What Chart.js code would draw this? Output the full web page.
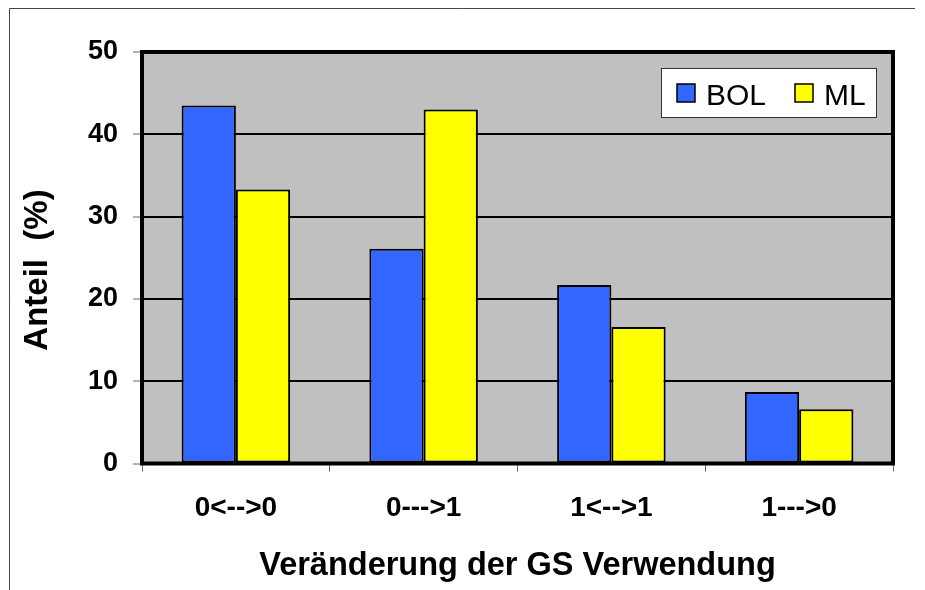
<!DOCTYPE html>
<html><head><meta charset="utf-8">
<script src="https://cdn.jsdelivr.net/npm/chart.js@4"></script>
<style>html,body{margin:0;padding:0;background:#fff;} canvas{display:block;}</style>
</head><body>
<canvas id="c" width="925" height="590"></canvas>
<script>
const categories = ['0<-->0', '0--->1', '1<-->1', '1--->0'];
const bolValues = [43.5, 26.1, 21.7, 8.7];
const mlValues = [33.3, 43.0, 16.6, 6.6];
const seriesNames = ['BOL', 'ML'];
const yTicks = [0, 10, 20, 30, 40, 50];
const yTitle = 'Anteil  (%)';
const xTitle = 'Veränderung der GS Verwendung';

Chart.defaults.font.family = '"Liberation Sans", Arial, sans-serif';

const decor = {
  id: 'decor',
  beforeDraw(chart) {
    const {ctx, chartArea: a} = chart;
    ctx.save();
    ctx.fillStyle = '#fff';
    ctx.fillRect(0, 0, chart.width, chart.height);
    ctx.fillStyle = '#C0C0C0';
    ctx.fillRect(a.left, a.top, a.right - a.left, a.bottom - a.top);
    ctx.restore();
  },
  afterDraw(chart) {
    const {ctx, chartArea: a} = chart;
    ctx.save();
    // plot frame
    ctx.strokeStyle = '#000';
    ctx.lineWidth = 4;
    ctx.strokeRect(a.left, a.top, a.right - a.left, a.bottom - a.top);
    // outer frame (left + top)
    ctx.strokeStyle = '#444';
    ctx.lineWidth = 1;
    ctx.beginPath();
    ctx.moveTo(9.5, chart.height);
    ctx.lineTo(9.5, 8.5);
    ctx.lineTo(915, 8.5);
    ctx.stroke();
    // y axis title
    ctx.save();
    ctx.translate(37.5, 270);
    ctx.rotate(-Math.PI / 2);
    ctx.font = 'bold 33px "Liberation Sans", Arial, sans-serif';
    ctx.fillStyle = '#000';
    ctx.textAlign = 'center';
    ctx.textBaseline = 'middle';
    ctx.fillText(yTitle, 0, 0);
    ctx.restore();
    // legend
    const bx = a.right - 16 - 216, by = a.top + 16, bw = 216, bh = 50;
    ctx.fillStyle = '#fff';
    ctx.fillRect(bx, by, bw, bh);
    ctx.strokeStyle = '#333';
    ctx.lineWidth = 1;
    ctx.strokeRect(bx + 0.5, by + 0.5, bw - 1, bh - 1);
    ctx.font = '30px "Liberation Sans", Arial, sans-serif';
    ctx.textBaseline = 'alphabetic';
    const offs = [16, 134];
    chart.data.datasets.forEach((ds, i) => {
      const sx = bx + offs[i];
      ctx.fillStyle = ds.backgroundColor;
      ctx.fillRect(sx, by + 16, 18, 18);
      ctx.strokeStyle = '#000';
      ctx.lineWidth = 1.5;
      ctx.strokeRect(sx, by + 16, 18, 18);
      ctx.fillStyle = '#000';
      ctx.fillText(ds.label, sx + 29, by + 37);
    });
    ctx.restore();
  }
};

new Chart(document.getElementById('c'), {
  type: 'bar',
  data: {
    labels: categories,
    datasets: [
      {label: seriesNames[0], data: bolValues, backgroundColor: '#3366FF', borderColor: '#000', borderWidth: 2, borderSkipped: false, categoryPercentage: 0.578, barPercentage: 1},
      {label: seriesNames[1], data: mlValues, backgroundColor: '#FFFF00', borderColor: '#000', borderWidth: 2, borderSkipped: false, categoryPercentage: 0.578, barPercentage: 1}
    ]
  },
  options: {
    responsive: false,
    animation: false,
    events: [],
    layout: {padding: {left: 0, right: 32, top: 52, bottom: 0}},
    plugins: {legend: {display: false}, tooltip: {enabled: false}},
    scales: {
      x: {
        grid: {display: true, drawOnChartArea: false, drawTicks: true, tickLength: 8, tickColor: '#666', tickWidth: 1, offset: true},
        border: {display: false},
        ticks: {font: {size: 28, weight: 'bold'}, color: '#000', padding: 20, maxRotation: 0, autoSkip: false},
        title: {display: true, text: xTitle, font: {size: 32.5, weight: 'bold'}, color: '#000', padding: {top: 0, bottom: 4}},
        afterFit(s) { s.height = 126.5; }
      },
      y: {
        min: 0, max: 50,
        afterBuildTicks(s) { s.ticks = yTicks.map(v => ({value: v})); },
        grid: {color: '#000', lineWidth: 2, tickLength: 9, tickColor: '#666', tickWidth: 1},
        border: {display: false},
        ticks: {font: {size: 27, weight: 'bold'}, color: '#000', padding: 15},
        title: {display: false},
        afterFit(s) { s.width = 142; }
      }
    }
  },
  plugins: [decor]
});
</script>
</body></html>
